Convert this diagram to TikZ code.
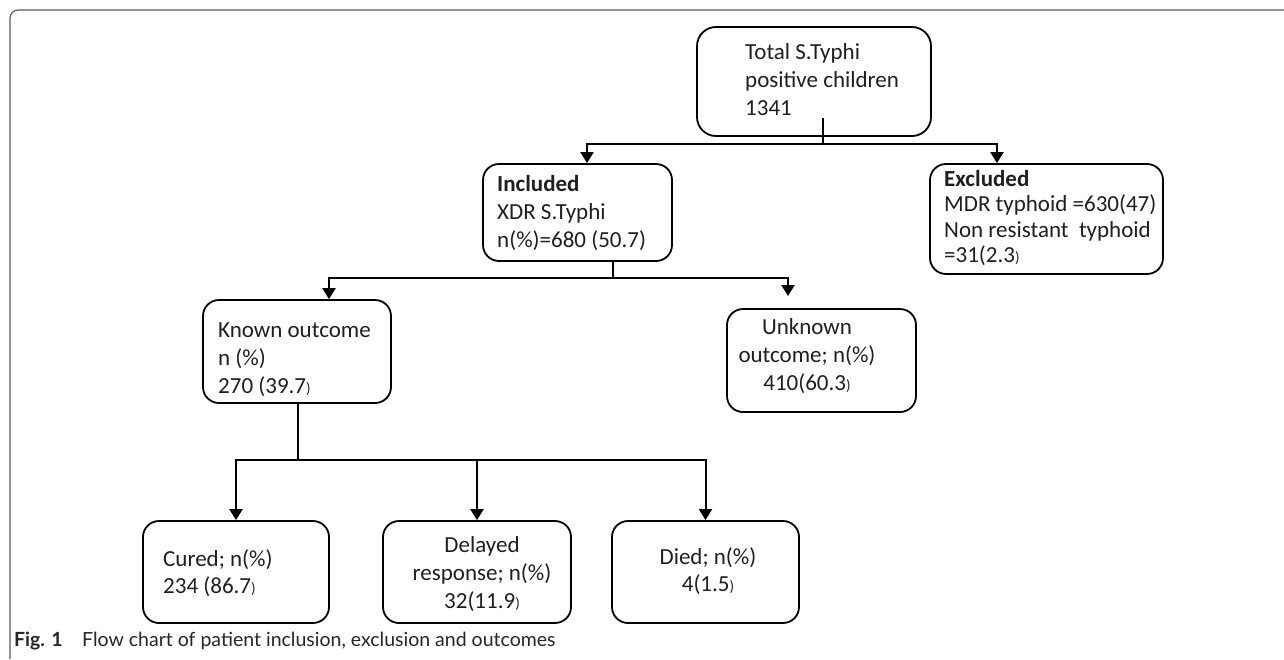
\documentclass[tikz,border=0pt]{standalone}
\usepackage{fontspec}
\newfontfamily\boxfont{Carlito}
\newfontfamily\capfont{Lato}
\usetikzlibrary{arrows.meta}
\newcommand{\smallparen}{{\fontsize{15}{15}\selectfont)}}
\begin{document}
\begin{tikzpicture}[x=1pt,y=-1pt,
  box/.style={draw=black, line width=1.8pt, rounded corners=16pt, inner sep=0pt},
  txt/.style={inner sep=0pt, font=\boxfont\fontsize{23}{28}\selectfont, text=black!88},
  conn/.style={draw=black, line width=2pt},
  arr/.style={conn, -{Triangle[width=13pt,length=11pt]}},
  captionstyle/.style={inner sep=0pt, anchor=base west, text=black!85}
]
\useasboundingbox (0,0) rectangle (1284,659);
% outer frame
\draw[black!65, line width=1.2pt, rounded corners=8pt] (10,659) -- (10,10) -- (1284,10);

% boxes
\node[box, rounded corners=19pt, minimum width=234pt, minimum height=109pt] (total) at (814,81.5) {};
\node[box, minimum width=189pt, minimum height=97pt] (incl) at (577.5,212.5) {};
\node[box, minimum width=233pt, minimum height=110pt] (excl) at (1046.5,219) {};
\node[box, minimum width=188pt, minimum height=103pt] (known) at (297,351.5) {};
\node[box, minimum width=189pt, minimum height=103pt] (unk) at (821.5,360.5) {};
\node[box, minimum width=186pt, minimum height=102pt] (cured) at (236,572) {};
\node[box, minimum width=188pt, minimum height=102pt] (delayed) at (477,572) {};
\node[box, minimum width=187pt, minimum height=102pt] (died) at (705.5,572) {};

% texts
\node[txt, anchor=west, align=left] (tTotal) at (745,79.5) {Total S.Typhi\\positive children\\1341};
\node[txt, anchor=west, align=left] (tIncl) at (497,213) {\textbf{Included}\\XDR S.Typhi\\n(\%)=680 (50.7)};
\node[txt, anchor=west, align=left, font=\boxfont\fontsize{23}{25.5}\selectfont] (tExcl) at (944,218) {\textbf{Excluded}\\MDR typhoid =630(47)\\Non resistant\ \ typhoid\\=31(2.3\smallparen};
\node[txt, anchor=west, align=left] (tKnown) at (218,359.5) {Known outcome\\n (\%)\\270 (39.7\smallparen};
\node[txt, anchor=center, align=center] (tUnk) at (807,356) {Unknown\\outcome; n(\%)\\410(60.3\smallparen};
\node[txt, anchor=west, align=left, font=\boxfont\fontsize{23}{27}\selectfont] (tCured) at (163,573) {Cured; n(\%)\\234 (86.7\smallparen};
\node[txt, anchor=center, align=center] (tDelayed) at (482,574) {Delayed\\response; n(\%)\\32(11.9\smallparen};
\node[txt, anchor=center, align=center, font=\boxfont\fontsize{23}{27}\selectfont] (tDied) at (708,571) {Died; n(\%)\\4(1.5\smallparen};

% connectors
\coordinate (s1) at (823,118);
\coordinate (j1) at (823,144);
\draw[conn] (s1) -- (j1);
\draw[arr] (j1) -| ([xshift=9.5pt]incl.north);
\draw[arr] (j1) -| ([xshift=-49.5pt]excl.north);

\coordinate (j2) at (613,278);
\draw[conn] (incl.south -| j2) -- (j2);
\draw[arr] (j2) -| ([xshift=32pt]known.north);
\coordinate (u1) at (788,296);
\draw[arr] (j2) -| (u1);

\coordinate (j3) at (298,460);
\draw[conn] (known.south -| j3) -- (j3);
\draw[arr] (j3) -| (cured.north);
\draw[arr] (j3) -| (delayed.north);
\draw[arr] (j3) -| (died.north);

% caption
\node[captionstyle, font=\capfont\bfseries\fontsize{19.5}{22}\selectfont] (figlab) at (14,646) {Fig. 1};
\node[captionstyle, font=\capfont\fontsize{19.5}{22}\selectfont] (captxt) at (82,646) {Flow chart of patient inclusion, exclusion and outcomes};
\end{tikzpicture}
\end{document}
